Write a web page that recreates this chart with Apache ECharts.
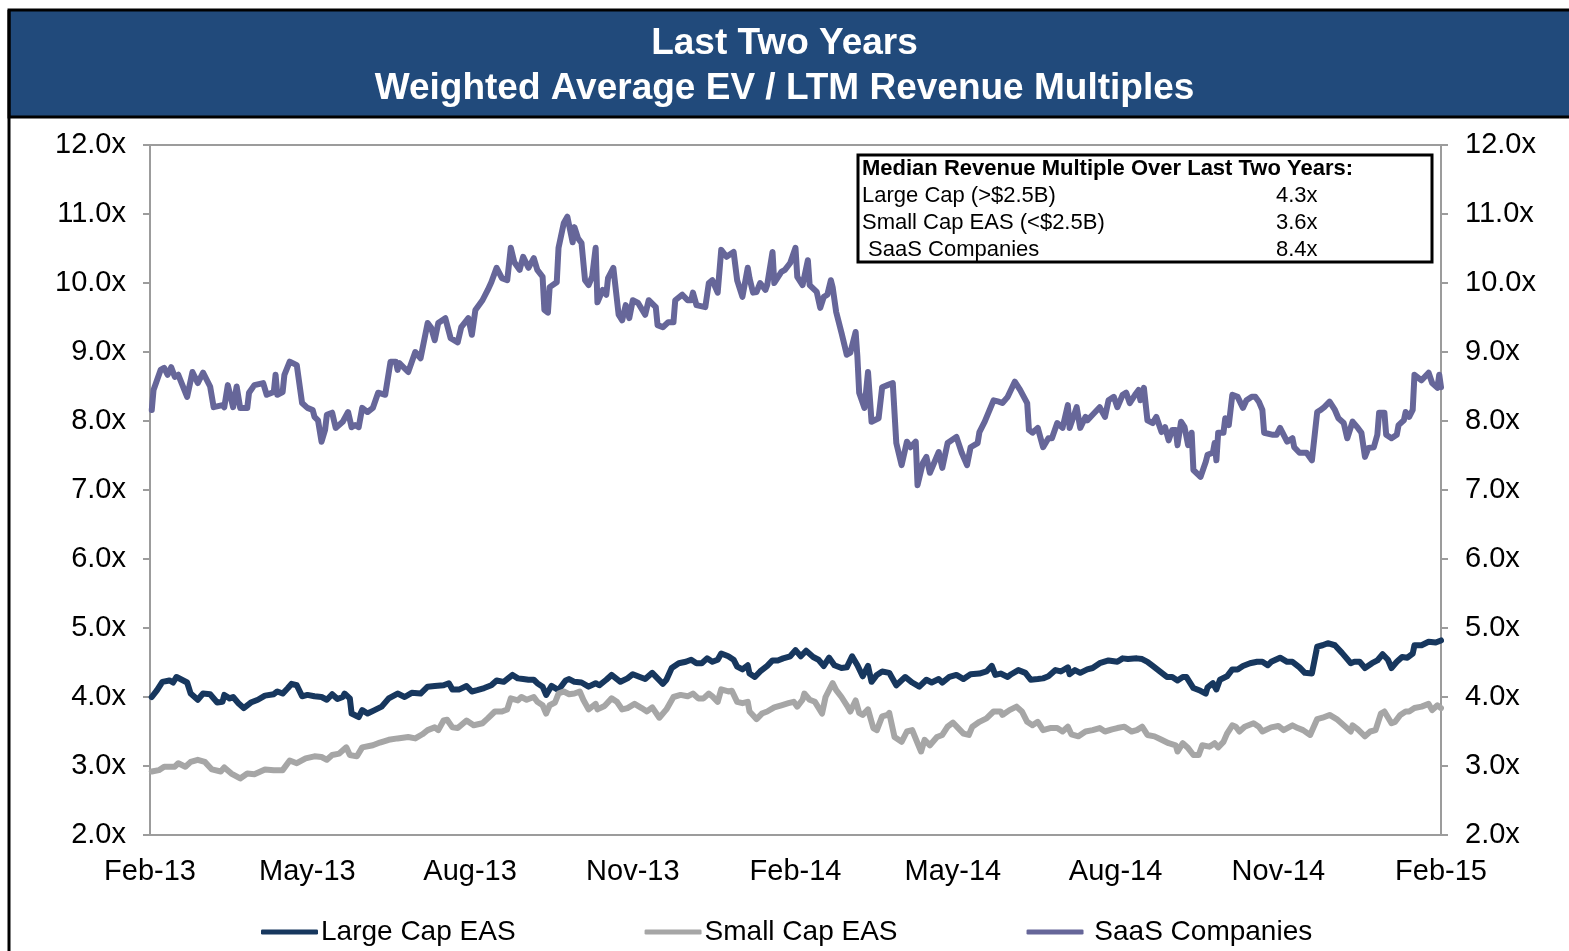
<!DOCTYPE html>
<html><head><meta charset="utf-8">
<script src="https://cdn.jsdelivr.net/npm/echarts@6/dist/echarts.min.js"></script>
<style>html,body{margin:0;padding:0;background:#fff}#chart{width:1569px;height:951px}</style>
</head><body><div id="chart"></div>
<script>
// ---- data ----
const titleLines = ['Last Two Years', 'Weighted Average EV / LTM Revenue Multiples'];
const startDate = '2013-02-01';
const endDate = '2015-02-01';
const xTickDates = ['2013-02-01','2013-05-01','2013-08-01','2013-11-01','2014-02-01','2014-05-01','2014-08-01','2014-11-01','2015-02-01'];
const xTickLabels = ['Feb-13','May-13','Aug-13','Nov-13','Feb-14','May-14','Aug-14','Nov-14','Feb-15'];
const yMin = 2, yMax = 12, yStep = 1;
const seriesNames = ['Large Cap EAS', 'Small Cap EAS', ' SaaS Companies'];
const medianHeader = 'Median Revenue Multiple Over Last Two Years:';
const medianLabels = ['Large Cap (>$2.5B)', 'Small Cap EAS (<$2.5B)', ' SaaS Companies'];
const medianValues = ['4.3x', '3.6x', '8.4x'];

// [days since startDate, EV / LTM revenue multiple]
const largeCap = [[1,4.00],[4,4.10],[7,4.22],[11,4.24],[13,4.21],[15,4.29],[18,4.25],[21,4.21],[23,4.05],[27,3.96],[30,4.05],[34,4.04],[38,3.92],[41,3.93],[42,4.03],[45,3.98],[47,4.00],[50,3.91],[53,3.84],[57,3.92],[61,3.96],[65,4.02],[70,4.04],[72,4.08],[75,4.05],[78,4.13],[80,4.19],[83,4.17],[86,4.01],[89,4.03],[93,4.01],[97,4.00],[100,3.96],[103,4.04],[106,3.97],[109,4.00],[110,4.05],[113,3.98],[114,3.76],[118,3.71],[120,3.81],[123,3.76],[127,3.81],[131,3.86],[135,3.98],[140,4.05],[144,4.00],[148,4.06],[153,4.05],[157,4.15],[161,4.16],[166,4.17],[169,4.20],[171,4.11],[175,4.11],[179,4.16],[182,4.08],[185,4.10],[189,4.13],[193,4.17],[196,4.24],[200,4.22],[205,4.32],[208,4.27],[211,4.26],[214,4.25],[217,4.25],[219,4.20],[222,4.15],[224,4.03],[227,4.16],[231,4.10],[235,4.24],[237,4.26],[240,4.22],[244,4.21],[248,4.15],[252,4.20],[254,4.17],[258,4.25],[261,4.32],[266,4.22],[270,4.27],[273,4.33],[277,4.29],[280,4.26],[284,4.35],[287,4.27],[290,4.19],[292,4.25],[295,4.42],[299,4.49],[303,4.51],[306,4.54],[309,4.49],[312,4.49],[315,4.56],[318,4.51],[321,4.54],[323,4.63],[327,4.59],[330,4.54],[332,4.44],[335,4.40],[338,4.46],[339,4.34],[342,4.29],[345,4.37],[349,4.45],[352,4.53],[355,4.53],[358,4.56],[362,4.59],[365,4.68],[368,4.59],[369,4.57],[371,4.67],[375,4.58],[378,4.54],[381,4.45],[384,4.57],[387,4.46],[391,4.42],[394,4.43],[397,4.59],[400,4.46],[403,4.30],[406,4.45],[408,4.22],[411,4.32],[414,4.37],[418,4.35],[422,4.17],[427,4.29],[431,4.21],[435,4.15],[439,4.25],[442,4.21],[446,4.26],[448,4.21],[452,4.29],[456,4.32],[460,4.26],[464,4.33],[469,4.34],[473,4.37],[476,4.45],[478,4.32],[481,4.34],[485,4.29],[487,4.33],[491,4.39],[495,4.35],[498,4.25],[502,4.26],[505,4.27],[508,4.30],[512,4.39],[515,4.37],[519,4.43],[520,4.33],[523,4.39],[526,4.35],[530,4.40],[533,4.42],[537,4.49],[542,4.53],[547,4.51],[550,4.56],[553,4.55],[558,4.56],[561,4.55],[564,4.51],[567,4.45],[571,4.37],[575,4.29],[578,4.29],[581,4.24],[584,4.29],[586,4.29],[590,4.13],[594,4.09],[597,4.05],[598,4.14],[601,4.20],[603,4.11],[605,4.25],[609,4.30],[612,4.40],[615,4.40],[618,4.45],[622,4.49],[626,4.51],[629,4.51],[632,4.46],[634,4.51],[639,4.57],[643,4.51],[646,4.51],[650,4.43],[653,4.35],[657,4.34],[660,4.73],[663,4.75],[666,4.78],[670,4.75],[674,4.64],[679,4.49],[681,4.51],[684,4.51],[687,4.42],[691,4.49],[694,4.53],[697,4.62],[700,4.54],[702,4.42],[705,4.51],[708,4.58],[711,4.57],[714,4.63],[715,4.75],[719,4.75],[723,4.80],[727,4.79],[730,4.82]];

const smallCap = [[1,2.92],[5,2.94],[8,2.99],[14,2.99],[16,3.04],[20,2.99],[23,3.06],[27,3.09],[31,3.06],[35,2.95],[40,2.92],[42,2.98],[46,2.89],[51,2.82],[55,2.89],[59,2.88],[65,2.95],[70,2.94],[75,2.94],[79,3.08],[83,3.04],[88,3.11],[93,3.14],[97,3.13],[100,3.09],[103,3.16],[107,3.18],[111,3.27],[113,3.16],[117,3.14],[120,3.27],[126,3.30],[130,3.34],[135,3.38],[140,3.40],[146,3.42],[150,3.40],[154,3.46],[157,3.52],[161,3.56],[163,3.52],[166,3.66],[168,3.67],[171,3.56],[174,3.55],[179,3.66],[183,3.59],[188,3.62],[191,3.69],[195,3.79],[199,3.79],[202,3.82],[204,3.98],[208,3.95],[210,4.00],[213,3.96],[217,4.00],[219,3.93],[222,3.88],[224,3.76],[226,3.88],[229,3.92],[231,4.05],[234,4.08],[237,4.04],[240,4.05],[243,4.08],[245,3.96],[248,3.82],[252,3.90],[253,3.82],[257,3.87],[261,3.98],[264,3.93],[267,3.82],[270,3.84],[274,3.90],[278,3.84],[281,3.79],[284,3.85],[288,3.70],[292,3.82],[296,4.00],[300,4.03],[304,4.01],[307,4.05],[310,3.98],[313,3.98],[316,4.05],[318,4.01],[321,3.93],[323,4.11],[327,4.08],[329,4.09],[332,3.93],[335,3.91],[338,3.93],[339,3.79],[343,3.68],[346,3.76],[349,3.79],[353,3.85],[357,3.88],[361,3.91],[364,3.93],[366,3.86],[369,3.96],[370,4.05],[373,3.96],[376,3.93],[380,3.76],[382,4.00],[386,4.20],[388,4.10],[391,4.00],[394,3.88],[396,3.79],[399,3.95],[401,3.77],[403,3.74],[406,3.82],[409,3.55],[411,3.52],[414,3.72],[417,3.74],[418,3.77],[421,3.42],[425,3.35],[428,3.50],[431,3.52],[434,3.33],[436,3.21],[438,3.38],[441,3.30],[445,3.42],[448,3.45],[451,3.57],[454,3.63],[457,3.55],[460,3.47],[463,3.45],[465,3.57],[469,3.64],[473,3.69],[477,3.79],[481,3.79],[482,3.74],[486,3.81],[490,3.86],[493,3.79],[496,3.64],[499,3.59],[502,3.64],[505,3.52],[509,3.55],[513,3.55],[516,3.50],[519,3.57],[521,3.46],[525,3.43],[529,3.50],[533,3.52],[537,3.55],[540,3.50],[544,3.53],[547,3.55],[551,3.57],[555,3.50],[558,3.52],[561,3.57],[564,3.45],[568,3.43],[572,3.38],[576,3.33],[580,3.30],[581,3.21],[584,3.33],[587,3.26],[590,3.16],[593,3.16],[595,3.30],[599,3.28],[602,3.33],[604,3.27],[607,3.35],[609,3.47],[612,3.59],[614,3.57],[616,3.50],[619,3.57],[624,3.62],[627,3.57],[629,3.50],[634,3.56],[638,3.58],[641,3.52],[646,3.59],[649,3.55],[652,3.52],[656,3.45],[660,3.68],[663,3.70],[667,3.74],[671,3.68],[675,3.59],[679,3.50],[680,3.59],[683,3.53],[687,3.43],[690,3.50],[693,3.52],[696,3.76],[698,3.79],[702,3.62],[704,3.64],[707,3.74],[710,3.79],[712,3.79],[715,3.84],[719,3.86],[723,3.90],[725,3.81],[728,3.88],[730,3.84]];

const saas = [[1,8.16],[2,8.45],[6,8.74],[8,8.77],[10,8.67],[12,8.78],[14,8.64],[16,8.67],[21,8.35],[24,8.71],[27,8.55],[30,8.70],[34,8.50],[36,8.20],[41,8.23],[42,8.20],[44,8.52],[47,8.20],[49,8.50],[51,8.19],[55,8.19],[56,8.41],[59,8.52],[64,8.55],[66,8.38],[70,8.42],[71,8.67],[72,8.38],[75,8.42],[76,8.67],[79,8.86],[83,8.81],[86,8.26],[89,8.19],[92,8.16],[93,8.06],[95,8.01],[97,7.70],[99,7.87],[100,8.09],[103,8.12],[105,7.90],[109,7.99],[112,8.13],[114,7.91],[116,7.94],[118,7.91],[120,8.19],[123,8.13],[126,8.19],[129,8.41],[133,8.38],[136,8.86],[139,8.86],[140,8.74],[141,8.84],[146,8.71],[150,9.00],[153,8.91],[154,8.91],[157,9.42],[159,9.35],[161,9.17],[163,9.42],[167,9.49],[170,9.20],[174,9.14],[176,9.36],[180,9.49],[182,9.25],[184,9.61],[188,9.75],[191,9.90],[193,10.01],[196,10.22],[199,10.07],[202,10.04],[204,10.51],[206,10.30],[209,10.19],[211,10.38],[214,10.22],[217,10.36],[219,10.19],[222,10.09],[223,9.61],[225,9.57],[226,9.94],[230,10.01],[231,10.51],[234,10.87],[236,10.96],[239,10.59],[240,10.81],[242,10.65],[244,10.58],[246,10.04],[248,9.97],[250,10.09],[252,10.51],[253,9.72],[256,9.90],[258,9.83],[259,10.07],[262,10.22],[265,9.54],[267,9.46],[269,9.68],[270,9.61],[271,9.49],[273,9.75],[276,9.71],[280,9.54],[282,9.75],[286,9.65],[287,9.39],[290,9.36],[293,9.43],[296,9.43],[297,9.75],[301,9.83],[304,9.75],[306,9.75],[307,9.86],[309,9.68],[314,9.65],[316,10.00],[318,10.04],[321,9.86],[323,10.48],[326,10.38],[330,10.45],[332,10.04],[335,9.80],[336,9.78],[338,10.22],[339,10.07],[341,9.86],[343,9.87],[345,10.00],[348,9.90],[349,9.97],[352,10.45],[353,10.00],[357,10.16],[359,10.19],[362,10.29],[365,10.51],[366,10.09],[369,9.97],[372,10.33],[373,9.97],[377,9.87],[379,9.64],[381,9.80],[383,9.83],[385,10.04],[386,9.94],[388,9.58],[391,9.28],[394,8.96],[396,8.99],[399,9.29],[400,8.93],[401,8.41],[404,8.19],[406,8.71],[408,7.99],[412,8.04],[414,8.49],[417,8.52],[420,8.55],[422,7.68],[425,7.36],[428,7.70],[430,7.62],[433,7.70],[434,7.07],[437,7.39],[439,7.48],[441,7.25],[446,7.55],[448,7.32],[451,7.68],[456,7.77],[459,7.54],[462,7.36],[464,7.62],[468,7.68],[469,7.84],[472,7.99],[477,8.30],[480,8.28],[482,8.26],[485,8.35],[489,8.57],[492,8.45],[496,8.26],[497,7.87],[499,7.83],[502,7.90],[505,7.62],[508,7.75],[510,7.75],[513,7.97],[516,7.90],[519,8.23],[520,7.90],[524,8.20],[526,7.90],[529,8.06],[530,8.01],[533,8.09],[537,8.20],[540,8.06],[542,8.30],[545,8.35],[547,8.20],[550,8.38],[552,8.41],[554,8.26],[557,8.38],[559,8.45],[560,8.30],[562,8.48],[564,8.01],[567,7.97],[569,8.06],[572,7.84],[574,7.91],[576,7.72],[578,7.87],[580,7.87],[581,7.65],[583,7.99],[585,7.91],[587,7.65],[589,7.83],[590,7.29],[594,7.19],[597,7.41],[598,7.51],[601,7.54],[602,7.68],[603,7.43],[604,7.83],[607,7.83],[608,8.04],[610,7.94],[612,8.38],[615,8.35],[618,8.19],[620,8.30],[623,8.35],[625,8.35],[627,8.28],[629,8.16],[630,7.83],[635,7.80],[637,7.80],[639,7.90],[643,7.70],[646,7.75],[647,7.62],[650,7.54],[654,7.54],[657,7.43],[660,8.13],[662,8.16],[664,8.20],[667,8.28],[670,8.16],[672,8.04],[675,7.97],[677,7.75],[680,7.99],[683,7.90],[685,7.83],[687,7.48],[689,7.61],[692,7.62],[694,7.80],[695,8.12],[698,8.12],[699,7.80],[702,7.75],[705,7.80],[706,7.94],[709,8.01],[710,8.13],[712,8.06],[714,8.16],[715,8.67],[719,8.59],[723,8.70],[725,8.55],[728,8.48],[729,8.67],[730,8.49]];

// ---- build ----
const DAY = 86400000;
const t0 = Date.parse(startDate);
const t1 = Date.parse(endDate);
const tickTimes = xTickDates.map(d => Date.parse(d));
const toSeries = arr => arr.map(p => [t0 + p[0] * DAY, p[1]]);
const FONT = '"Liberation Sans", Arial, Helvetica, sans-serif';
const AXIS_GRAY = '#9c9c9c';
const colors = ['#17375e', '#a6a6a6', '#666699'];
const datasets = [largeCap, smallCap, saas];

function yAxisCfg(pos) {
  return {
    type: 'value', position: pos, min: yMin, max: yMax, interval: yStep,
    axisLine: { show: true, lineStyle: { color: AXIS_GRAY, width: 2 } },
    axisTick: { show: true, inside: false, length: 7, lineStyle: { color: AXIS_GRAY, width: 2 } },
    splitLine: { show: false },
    axisLabel: { margin: 24, color: '#000', fontFamily: FONT, fontSize: 29, lineHeight: 33, padding: [6, 0, 0, 0],
      formatter: v => v.toFixed(1) + 'x' }
  };
}

const chart = echarts.init(document.getElementById('chart'), null, { renderer: 'canvas' });
chart.setOption({
  animation: false,
  backgroundColor: '#fff',
  title: {
    text: titleLines.join('\n'), left: 'center', top: 21, padding: 0,
    textStyle: { color: '#fff', fontFamily: FONT, fontWeight: 'bold', fontSize: 37, lineHeight: 45 }
  },
  grid: { left: 150, right: 128, top: 145, bottom: 116, show: true, borderColor: AXIS_GRAY, borderWidth: 2, backgroundColor: 'transparent' },
  xAxis: {
    type: 'value', min: t0, max: t1, scale: true,
    axisLine: { show: true, lineStyle: { color: AXIS_GRAY, width: 2 } },
    axisTick: { show: false },
    splitLine: { show: false },
    axisLabel: {
      customValues: tickTimes, margin: 22, color: '#000', fontFamily: FONT, fontSize: 29,
      showMinLabel: true, showMaxLabel: true, hideOverlap: false,
      formatter: v => { const i = tickTimes.indexOf(+v); return i >= 0 ? xTickLabels[i] : ''; }
    }
  },
  yAxis: [yAxisCfg('left'), yAxisCfg('right')],
  legend: {
    data: seriesNames, left: 256, top: 913, icon: 'roundRect', itemWidth: 57, itemHeight: 5,
    itemGap: 129, textStyle: { color: '#000', fontFamily: FONT, fontSize: 28, padding: [0, 0, 0, -2] }
  },
  series: seriesNames.map((name, i) => ({
    name, type: 'line', yAxisIndex: 0, data: toSeries(datasets[i]), showSymbol: false, symbol: 'none',
    lineStyle: { color: colors[i], width: 6, join: 'round', cap: 'round' }, itemStyle: { color: colors[i] },
    z: 3
  })),
  graphic: [
    { type: 'rect', z: -10, shape: { x: 9, y: 10, width: 1580, height: 107 },
      style: { fill: '#214a7b', stroke: '#000', lineWidth: 3 } },
    { type: 'line', z: -10, shape: { x1: 9, y1: 10, x2: 9, y2: 960 }, style: { stroke: '#000', lineWidth: 3 } },
    { type: 'group', z: 100, children: [
      { type: 'rect', shape: { x: 858, y: 155, width: 574, height: 107 }, style: { fill: '#fff', stroke: '#000', lineWidth: 3 } },
      { type: 'text', x: 862, y: 169, style: { text: medianHeader, font: 'bold 22px ' + FONT, fill: '#000', verticalAlign: 'middle' } },
      ...medianLabels.map((t, i) => ({ type: 'text', x: 862, y: 196 + 27 * i, style: { text: t, font: '22px ' + FONT, fill: '#000', verticalAlign: 'middle' } })),
      ...medianValues.map((t, i) => ({ type: 'text', x: 1276, y: 196 + 27 * i, style: { text: t, font: '22px ' + FONT, fill: '#000', verticalAlign: 'middle' } }))
    ] }
  ]
});
</script></body></html>
